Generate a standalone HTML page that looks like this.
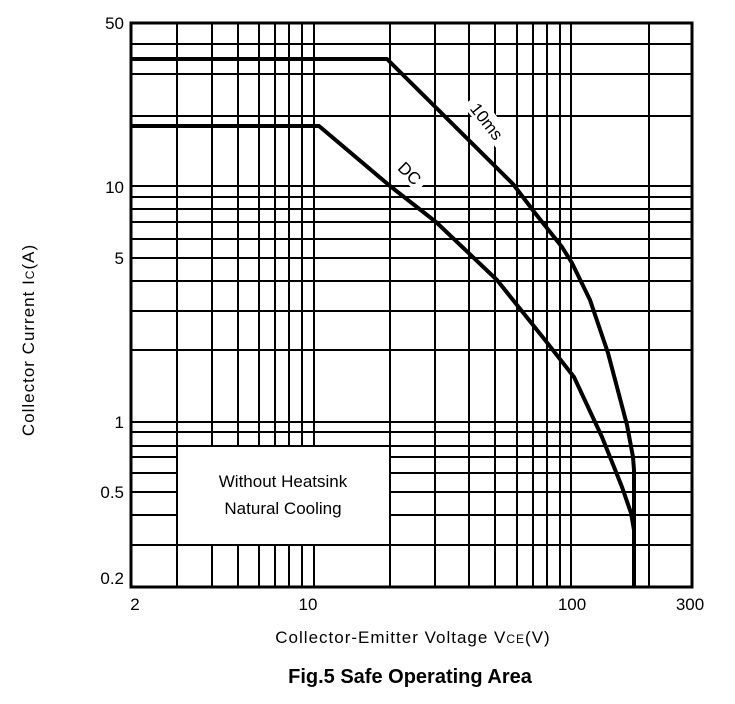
<!DOCTYPE html>
<html><head><style>body{margin:0;background:#fff}svg{display:block}</style></head><body>
<svg width="735" height="704" xmlns="http://www.w3.org/2000/svg" font-family="Liberation Sans, sans-serif">
<rect width="735" height="704" fill="#fff"/>
<g stroke="#000" stroke-width="2">
<path d="M177 23V587M212 23V587M238 23V587M259 23V587M275 23V587M289 23V587M302 23V587M314 23V587M390 23V587M435 23V587M469 23V587M495 23V587M517 23V587M533 23V587M547 23V587M560 23V587M571 23V587M649 23V587"/>
<path d="M131 44H692M131 74H692M131 116H692M131 186H692M131 197H692M131 209H692M131 222H692M131 239H692M131 258H692M131 281H692M131 311H692M131 350H692M131 422H692M131 432H692M131 446H692M131 457H692M131 473H692M131 492H692M131 515H692M131 545H692"/>
</g>
<rect x="131" y="23" width="561" height="564" fill="none" stroke="#000" stroke-width="3"/>
<rect x="177" y="446" width="213" height="99" fill="#fff" stroke="#000" stroke-width="2"/>
<g fill="none" stroke="#000" stroke-width="4" stroke-linejoin="round">
<path d="M131 59H387L513 184L535 213L562 247L572 263L590 300L608 353L627 425L633 457L634 470V587"/>
<path d="M131 126H319L390 186L436 222L497 280L513 300L545 340L574 377L602 437L622 487L631 513L634 530V587"/>
</g>
<g font-size="17" fill="#000">
<g transform="translate(486,122) rotate(52)"><rect x="-27" y="-12" width="54" height="20" fill="#fff"/><text text-anchor="middle" y="5">10ms</text></g>
<g transform="translate(409,174) rotate(45)"><rect x="-18" y="-12" width="36" height="20" fill="#fff"/><text text-anchor="middle" y="5">DC</text></g>
<text x="283" y="487" text-anchor="middle">Without Heatsink</text>
<text x="283" y="514" text-anchor="middle">Natural Cooling</text>
<g text-anchor="end">
<text x="124" y="29">50</text><text x="124" y="193">10</text><text x="124" y="264">5</text>
<text x="124" y="428">1</text><text x="124" y="498">0.5</text><text x="124" y="584">0.2</text>
</g>
<g text-anchor="middle">
<text x="135" y="610">2</text><text x="308" y="610">10</text><text x="572" y="610">100</text><text x="690" y="610">300</text>
<text x="413" y="643" letter-spacing="1">Collector-Emitter Voltage V<tspan font-size="12">CE</tspan>(V)</text>
<text x="34" y="340" transform="rotate(-90 34 340)" letter-spacing="1">Collector Current I<tspan font-size="12">C</tspan>(A)</text>
<text x="410" y="683" font-size="20" font-weight="bold">Fig.5  Safe Operating Area</text>
</g>
</g>
</svg>
</body></html>
